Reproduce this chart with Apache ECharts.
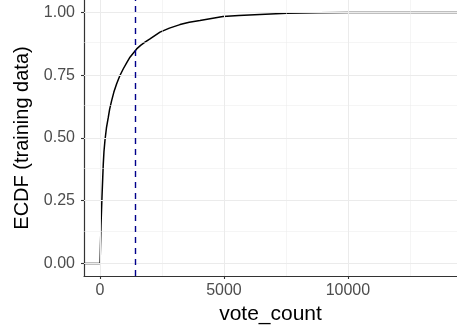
<!DOCTYPE html>
<html>
<head>
<meta charset="utf-8">
<script src="https://cdn.jsdelivr.net/npm/echarts@6/dist/echarts.min.js"></script>
<style>
html,body{margin:0;padding:0;background:#fff;}
#chart{width:457px;height:331px;}
</style>
</head>
<body>
<div id="chart"></div>
<script>
// ecdf of vote_count
var voteCount = [-645, 5, 20, 40, 80, 110, 133, 160, 200, 260, 336, 390, 470, 560, 672, 800, 941, 1080, 1210, 1478, 1650, 1815, 2016, 2420, 2800, 3226, 3600, 4032, 4960, 5600, 6450, 7530, 8800, 10080, 14400];
var ecdfValue = [0, 0, 0.07, 0.15, 0.264, 0.34, 0.397, 0.445, 0.49, 0.54, 0.583, 0.615, 0.649, 0.683, 0.716, 0.748, 0.776, 0.800, 0.822, 0.855, 0.870, 0.882, 0.895, 0.922, 0.938, 0.952, 0.961, 0.968, 0.984, 0.988, 0.992, 0.997, 0.999, 1.0, 1.0];
var xTicks = [0, 5000, 10000];
var xMinor = [2500, 7500, 12500];
var yTicks = [0, 0.25, 0.5, 0.75, 1];
var yMinor = [0.125, 0.375, 0.625, 0.875];
var cutoff = 1425;

var fontFam = "'Liberation Sans', Arial, sans-serif";
var gridCol = '#EBEBEB';

var pts = [];
for (var i = 0; i < voteCount.length; i++) {
	pts.push([voteCount[i], ecdfValue[i]]);
}

var gridLines = [];
xTicks.forEach(function (v) { gridLines.push({xAxis: v, lineStyle: {width: 1}}); });
xMinor.forEach(function (v) { gridLines.push({xAxis: v, lineStyle: {width: 0.5}}); });
yTicks.forEach(function (v) { gridLines.push({yAxis: v, lineStyle: {width: 1}}); });
yMinor.forEach(function (v) { gridLines.push({yAxis: v, lineStyle: {width: 0.5}}); });

var chart = echarts.init(document.getElementById('chart'));
var option = {
	animation: false,
	backgroundColor: '#fff',
	grid: {left: 84, right: 0, top: 0, bottom: 55, containLabel: false},
	xAxis: {
		type: 'value',
		min: -645,
		max: 14400,
		name: 'vote_count',
		nameLocation: 'middle',
		nameGap: 28,
		nameTextStyle: {fontSize: 21, color: '#000', fontFamily: fontFam},
		axisLine: {show: true, onZero: false, lineStyle: {color: '#333', width: 1.2}},
		axisTick: {show: true, customValues: xTicks, length: 3, lineStyle: {color: '#333', width: 1.1}},
		axisLabel: {
			customValues: xTicks, margin: 7, fontSize: 16, color: '#4D4D4D', fontFamily: fontFam,
			formatter: function (v) { return String(v); }
		},
		splitLine: {show: false}
	},
	yAxis: {
		type: 'value',
		min: -0.05,
		max: 1.05,
		name: 'ECDF (training data)',
		nameLocation: 'middle',
		nameGap: 46,
		nameTextStyle: {fontSize: 20, color: '#000', fontFamily: fontFam},
		axisLine: {show: true, onZero: false, lineStyle: {color: '#333', width: 1.2}},
		axisTick: {show: true, customValues: yTicks, length: 3, lineStyle: {color: '#333', width: 1.1}},
		axisLabel: {
			customValues: yTicks, margin: 9, fontSize: 16, color: '#4D4D4D', fontFamily: fontFam,
			formatter: function (v) { return v.toFixed(2); }
		},
		splitLine: {show: false}
	},
	series: [
		{
			// background grid
			type: 'line',
			data: [],
			z: 1,
			silent: true,
			markLine: {
				silent: true,
				symbol: 'none',
				label: {show: false},
				emphasis: {disabled: true},
				lineStyle: {color: gridCol, type: 'solid'},
				data: gridLines
			}
		},
		{
			type: 'line',
			data: pts,
			z: 3,
			showSymbol: false,
			smooth: false,
			lineStyle: {color: '#000', width: 1.5},
			markLine: {
				silent: true,
				symbol: 'none',
				label: {show: false},
				emphasis: {disabled: true},
				lineStyle: {color: '#00008B', type: [6, 5], width: 1.4},
				data: [{xAxis: cutoff}]
			}
		}
	]
};
chart.setOption(option);
</script>
</body>
</html>
